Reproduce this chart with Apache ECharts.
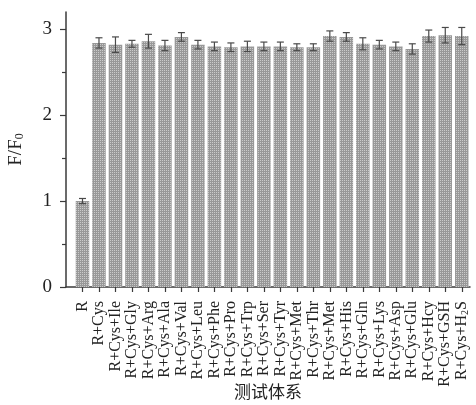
<!DOCTYPE html>
<html>
<head>
<meta charset="utf-8">
<script src="https://cdn.jsdelivr.net/npm/echarts@6/dist/echarts.min.js"></script>
<style>
  html, body { margin: 0; padding: 0; background: #fff; }
  #chart { width: 476px; height: 405px; }
</style>
</head>
<body>
<div id="chart"></div>
<script>
// Test systems (x categories)
const categories = [
  'R', 'R+Cys', 'R+Cys+Ile', 'R+Cys+Gly', 'R+Cys+Arg', 'R+Cys+Ala',
  'R+Cys+Val', 'R+Cys+Leu', 'R+Cys+Phe', 'R+Cys+Pro', 'R+Cys+Trp', 'R+Cys+Ser',
  'R+Cys+Tyr', 'R+Cys+Met', 'R+Cys+Thr', 'R+Cys+Met', 'R+Cys+His', 'R+Cys+Gln',
  'R+Cys+Lys', 'R+Cys+Asp', 'R+Cys+Glu', 'R+Cys+Hcy', 'R+Cys+GSH', 'R+Cys+H2S'
];
// Fluorescence ratio F/F0
const ratios = [
  1.00, 2.84, 2.82, 2.83, 2.86, 2.81,
  2.91, 2.82, 2.80, 2.79, 2.80, 2.80,
  2.80, 2.79, 2.79, 2.92, 2.91, 2.83,
  2.82, 2.80, 2.77, 2.92, 2.93, 2.92
];
// Standard deviations
const errors = [
  0.03, 0.06, 0.09, 0.04, 0.08, 0.06,
  0.05, 0.05, 0.05, 0.05, 0.06, 0.05,
  0.05, 0.04, 0.04, 0.06, 0.05, 0.07,
  0.05, 0.05, 0.06, 0.07, 0.09, 0.10
];
const yMajorTicks = [0, 1, 2, 3];
const yMinorTicks = [0.5, 1.5, 2.5];

const serif = '"Liberation Serif", "DejaVu Serif", serif';
const axisColor = '#3a3a3a';
const catIdx = categories.map((_, i) => i);

function catLabel(v) {
  const i = Math.round(v);
  if (Math.abs(v - i) > 1e-6 || i < 0 || i >= categories.length) return '';
  return categories[i].replace(/H2S$/, 'H{sub|2}S');
}

const chart = echarts.init(document.getElementById('chart'), null, { renderer: 'canvas' });

chart.setOption({
  animation: false,
  backgroundColor: '#fff',
  grid: { left: 66, right: 6, top: 12, bottom: 118, containLabel: false, outerBoundsMode: 'none' },
  xAxis: {
    type: 'value',
    min: -1,
    max: 23.5,
    interval: 1,
    splitLine: { show: false },
    axisLine: { show: true, onZero: false, lineStyle: { color: axisColor, width: 1.5 } },
    axisTick: {
      show: true, length: 5, customValues: catIdx,
      lineStyle: { color: axisColor, width: 1.2 }
    },
    axisLabel: {
      customValues: catIdx,
      formatter: catLabel,
      rotate: 90,
      margin: 14,
      hideOverlap: false,
      fontFamily: serif,
      fontSize: 16,
      lineHeight: 12,
      color: '#222',
      rich: { sub: { fontSize: 10, lineHeight: 12, fontFamily: serif, color: '#222', padding: [7, 0, 0, 0] } }
    },
    name: '测试体系',
    nameLocation: 'middle',
    nameGap: 96,
    nameMoveOverlap: false,
    nameTextStyle: { fontFamily: '"Noto Sans CJK SC", sans-serif', fontSize: 17, color: '#222' }
  },
  yAxis: [
    {
      type: 'value',
      min: 0,
      max: 3.2,
      interval: 1,
      splitLine: { show: false },
      axisLine: { show: true, onZero: false, lineStyle: { color: axisColor, width: 1.5 } },
      axisTick: {
        show: true, length: 6, customValues: yMajorTicks,
        lineStyle: { color: axisColor, width: 1.2 }
      },
      axisLabel: {
        customValues: yMajorTicks,
        margin: 14,
        fontFamily: serif,
        fontSize: 19,
        color: '#222'
      },
      name: 'F/F{sub|0}',
      nameLocation: 'middle',
      nameGap: 40,
      nameRotate: 90,
      nameMoveOverlap: false,
      nameTextStyle: {
        fontFamily: serif, fontSize: 19, color: '#222',
        rich: { sub: { fontFamily: serif, fontSize: 12, color: '#222', padding: [8, 0, 0, 0] } }
      }
    },
    {
      type: 'value',
      position: 'left',
      min: 0,
      max: 3.2,
      splitLine: { show: false },
      axisLine: { show: false, onZero: false },
      axisTick: {
        show: true, length: 4, customValues: yMinorTicks,
        lineStyle: { color: axisColor, width: 1.2 }
      },
      axisLabel: { show: false }
    }
  ],
  series: [
    {
      type: 'bar',
      barWidth: 13.5,
      data: ratios.map((v, i) => [i, v]),
      itemStyle: {
        color: '#989898',
        decal: {
          symbol: 'rect',
          symbolSize: 1,
          dashArrayX: [1, 1],
          dashArrayY: [1, 1],
          rotation: 0,
          color: 'rgba(225,225,225,0.7)'
        }
      },
      z: 2
    },
    {
      type: 'custom',
      data: ratios.map((v, i) => [i, v, errors[i]]),
      renderItem: function (params, api) {
        const x = api.value(0), v = api.value(1), e = api.value(2);
        const hi = api.coord([x, v + e]);
        const lo = api.coord([x, v - e]);
        const w = 3.5;
        const style = { stroke: '#4a4a4a', lineWidth: 1.2 };
        return {
          type: 'group',
          children: [
            { type: 'line', shape: { x1: hi[0], y1: hi[1], x2: lo[0], y2: lo[1] }, style },
            { type: 'line', shape: { x1: hi[0] - w, y1: hi[1], x2: hi[0] + w, y2: hi[1] }, style },
            { type: 'line', shape: { x1: lo[0] - w, y1: lo[1], x2: lo[0] + w, y2: lo[1] }, style }
          ]
        };
      },
      z: 3
    }
  ]
});
</script>
</body>
</html>
